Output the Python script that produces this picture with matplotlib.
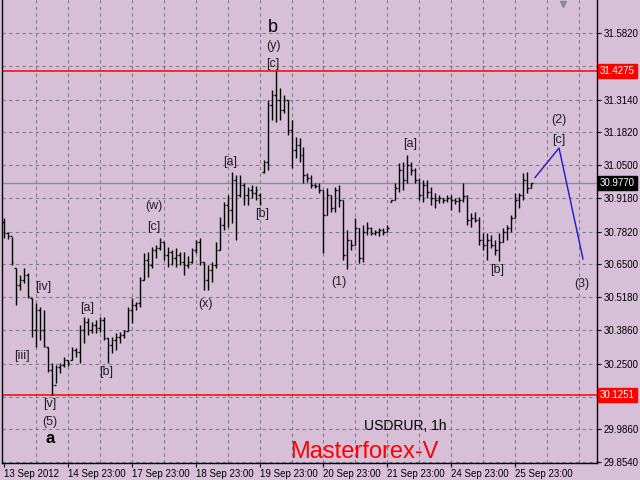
import matplotlib
matplotlib.use('Agg')
import matplotlib.pyplot as plt

# hourly USDRUR bars (index 0 = first bar on screen)
highs = [30.837, 30.781, 30.761, 30.636, 30.608, 30.636, 30.616, 30.515, 30.495, 30.479,
         30.467, 30.318, 30.253, 30.245, 30.253, 30.277, 30.265, 30.318, 30.314, 30.406,
         30.438, 30.434, 30.418, 30.426, 30.438, 30.438, 30.354, 30.358, 30.374, 30.378,
         30.386, 30.479, 30.515, 30.499, 30.600, 30.696, 30.700, 30.720, 30.728, 30.757,
         30.740, 30.720, 30.708, 30.716, 30.700, 30.700, 30.684, 30.716, 30.748, 30.757,
         30.660, 30.648, 30.660, 30.740, 30.841, 30.901, 30.930, 31.022, 31.010, 31.010,
         30.978, 30.962, 30.970, 30.966, 30.938, 31.071, 31.312, 31.352, 31.4275, 31.360,
         31.332, 31.312, 31.232, 31.163, 31.159, 31.123, 31.018, 31.010, 30.978, 30.978,
         30.950, 30.958, 30.930, 30.962, 30.970, 30.910, 30.789, 30.748, 30.837, 30.797,
         30.809, 30.821, 30.801, 30.789, 30.797, 30.797, 30.809, 30.910, 30.978, 31.059,
         31.063, 31.091, 31.063, 31.038, 30.998, 30.990, 30.990, 30.962, 30.938, 30.930,
         30.918, 30.930, 30.930, 30.918, 30.922, 30.978, 30.930, 30.857, 30.861, 30.841,
         30.777, 30.777, 30.769, 30.748, 30.777, 30.797, 30.809, 30.849, 30.938, 30.938,
         31.018, 31.022, 30.980]
lows = [30.757, 30.752, 30.648, 30.487, 30.547, 30.575, 30.515, 30.358, 30.318, 30.346,
        30.318, 30.217, 30.1251, 30.173, 30.213, 30.237, 30.241, 30.265, 30.277, 30.253,
        30.334, 30.366, 30.374, 30.374, 30.378, 30.346, 30.253, 30.293, 30.306, 30.334,
        30.354, 30.382, 30.414, 30.467, 30.479, 30.587, 30.600, 30.636, 30.676, 30.708,
        30.668, 30.640, 30.648, 30.640, 30.648, 30.608, 30.636, 30.656, 30.696, 30.648,
        30.547, 30.547, 30.579, 30.636, 30.708, 30.789, 30.801, 30.817, 30.748, 30.922,
        30.889, 30.889, 30.918, 30.910, 30.889, 31.018, 31.030, 31.232, 31.224, 31.232,
        31.260, 31.171, 31.038, 31.079, 31.063, 30.978, 30.982, 30.958, 30.958, 30.938,
        30.696, 30.849, 30.861, 30.861, 30.881, 30.668, 30.632, 30.708, 30.728, 30.656,
        30.660, 30.769, 30.769, 30.769, 30.765, 30.769, 30.781, 30.901, 30.910, 30.942,
        30.950, 30.978, 31.010, 30.978, 30.910, 30.901, 30.918, 30.889, 30.877, 30.897,
        30.897, 30.901, 30.869, 30.893, 30.861, 30.901, 30.809, 30.801, 30.821, 30.728,
        30.708, 30.668, 30.716, 30.688, 30.664, 30.740, 30.748, 30.781, 30.837, 30.877,
        30.910, 30.938, 30.958]
opens = [30.821, 30.777, 30.765, 30.636, 30.567, 30.587, 30.608, 30.515, 30.386, 30.467,
         30.386, 30.318, 30.225, 30.165, 30.237, 30.245, 30.265, 30.265, 30.306, 30.297,
         30.386, 30.418, 30.386, 30.406, 30.394, 30.426, 30.354, 30.326, 30.346, 30.358,
         30.366, 30.382, 30.467, 30.487, 30.495, 30.587, 30.668, 30.648, 30.708, 30.716,
         30.740, 30.688, 30.700, 30.676, 30.688, 30.660, 30.648, 30.660, 30.708, 30.740,
         30.660, 30.587, 30.628, 30.648, 30.708, 30.809, 30.889, 30.869, 30.990, 30.930,
         30.970, 30.930, 30.950, 30.938, 30.930, 31.022, 31.063, 31.292, 31.332, 31.312,
         31.272, 31.312, 31.191, 31.111, 31.131, 31.091, 31.010, 30.998, 30.970, 30.966,
         30.950, 30.849, 30.930, 30.877, 30.950, 30.910, 30.688, 30.748, 30.728, 30.797,
         30.676, 30.781, 30.797, 30.777, 30.781, 30.789, 30.781, 30.901, 30.910, 30.958,
         31.030, 30.990, 31.050, 31.030, 30.990, 30.930, 30.970, 30.942, 30.918, 30.910,
         30.918, 30.910, 30.918, 30.910, 30.905, 30.910, 30.926, 30.829, 30.837, 30.829,
         30.748, 30.728, 30.748, 30.728, 30.708, 30.740, 30.781, 30.797, 30.837, 30.910,
         30.930, 30.990, 30.958]
closes = [30.777, 30.765, 30.660, 30.567, 30.587, 30.608, 30.523, 30.386, 30.467, 30.386,
          30.322, 30.225, 30.165, 30.237, 30.245, 30.265, 30.253, 30.306, 30.297, 30.386,
          30.418, 30.386, 30.406, 30.394, 30.426, 30.354, 30.326, 30.346, 30.358, 30.366,
          30.382, 30.467, 30.487, 30.495, 30.587, 30.668, 30.648, 30.708, 30.716, 30.740,
          30.688, 30.700, 30.676, 30.688, 30.660, 30.648, 30.660, 30.708, 30.740, 30.660,
          30.587, 30.628, 30.648, 30.708, 30.809, 30.889, 30.869, 30.990, 30.930, 30.970,
          30.930, 30.950, 30.938, 30.950, 30.897, 31.063, 31.292, 31.332, 31.312, 31.272,
          31.312, 31.191, 31.111, 31.131, 31.091, 31.010, 30.998, 30.970, 30.966, 30.950,
          30.849, 30.930, 30.877, 30.950, 30.910, 30.688, 30.748, 30.728, 30.797, 30.676,
          30.781, 30.797, 30.777, 30.781, 30.789, 30.781, 30.797, 30.910, 30.958, 31.030,
          30.990, 31.050, 31.030, 30.990, 30.930, 30.970, 30.942, 30.918, 30.910, 30.918,
          30.910, 30.918, 30.910, 30.905, 30.910, 30.926, 30.829, 30.837, 30.829, 30.748,
          30.728, 30.748, 30.728, 30.708, 30.740, 30.781, 30.797, 30.837, 30.910, 30.930,
          30.990, 30.958, 30.977]

price_ticks = [29.854, 29.986, 30.118, 30.250, 30.386, 30.518, 30.650, 30.782,
               30.918, 31.050, 31.182, 31.314, 31.450, 31.582]
# these two scale labels sit under the red level boxes
hidden_ticks = [30.118, 31.450]
date_pos = [0, 16, 32, 48, 64, 80, 96, 112, 128]
date_labels = ['13 Sep 2012', '14 Sep 23:00', '17 Sep 23:00', '18 Sep 23:00',
               '19 Sep 23:00', '20 Sep 23:00', '21 Sep 23:00', '24 Sep 23:00',
               '25 Sep 23:00']

level_hi = 31.4275
level_lo = 30.1251
bid = 30.9770

# forecast path (2)->(3)
fc_x = [132.9, 138.9, 144.9]
fc_y = [31.000, 31.119, 30.672]

# wave labels: (text, bar index, price)
waves = [
    ('[iii]', 4.6, 30.281), ('[iv]', 9.9, 30.559), ('[v]', 11.6, 30.088),
    ('(5)', 11.6, 30.016), ('[a]', 20.9, 30.474), ('[b]', 25.6, 30.217),
    ('(w)', 37.6, 30.885), ('[c]', 37.6, 30.801), ('(x)', 50.6, 30.491),
    ('[a]', 56.6, 31.064), ('[b]', 64.6, 30.853), ('(y)', 67.4, 31.530),
    ('[c]', 67.4, 31.457), ('(1)', 83.9, 30.579), ('[a]', 101.6, 31.135),
    ('[b]', 123.4, 30.628), ('(2)', 138.9, 31.232), ('[c]', 138.9, 31.151),
    ('(3)', 144.6, 30.571),
]

bg = '#d8bfd8'
plt.rcParams['font.family'] = ['Liberation Sans', 'DejaVu Sans']

fig = plt.figure(figsize=(6.4, 4.8), dpi=100, facecolor=bg)
ax = fig.add_axes([2 / 640, 17 / 480, 595 / 640, 463 / 480])
ax.set_facecolor(bg)

n = len(highs)
idx = list(range(n))
ax.vlines(idx, lows, highs, color='black', lw=1.0, zorder=3)
ax.hlines(opens, [i - 0.4 for i in idx], idx, color='black', lw=1.0, zorder=3)
ax.hlines(closes, idx, [i + 0.4 for i in idx], color='black', lw=1.0, zorder=3)

ax.set_xlim(-0.4, 148.4)
ax.set_ylim(29.8505, 31.715)

gridc = '#7c7c88'
for p in price_ticks:
    ax.axhline(p, color=gridc, lw=0.8, ls=(0, (3, 3)), zorder=1)
for k in range(8, 149, 8):
    ax.axvline(k, color=gridc, lw=0.8, ls=(0, (3, 3)), zorder=1)

ax.axhline(level_hi, color='#ff0000', lw=1.1, zorder=2)
ax.axhline(level_lo, color='#ff0000', lw=1.1, zorder=2)
ax.axhline(bid, color='#7890a0', lw=1.0, zorder=2)

ax.plot(fc_x, fc_y, color='#1a1ad0', lw=1.0, zorder=4)

for txt, x, y in waves:
    ax.text(x, y, txt, ha='center', va='center', fontsize=9, color='#202020', zorder=5)
ax.text(67.4, 31.606, 'b', ha='center', va='center', fontsize=13, color='black')
ax.text(11.6, 29.951, 'a', ha='center', va='center', fontsize=12, color='black',
        fontweight='bold')
ax.text(100.5, 29.999, 'USDRUR, 1h', ha='center', va='center', fontsize=10, color='black')
ax.text(90.3, 29.893, 'Masterforex-V', ha='center', va='center', fontsize=17, color='red')

# shift marker at the top
ax.plot([139.9], [31.70], marker='v', ms=5, color='#8a8a8a', clip_on=False, zorder=6)

ax.yaxis.tick_right()
ax.set_yticks(price_ticks)
ax.set_yticklabels(['' if p in hidden_ticks else '%.4f' % p for p in price_ticks])
ax.set_xticks(date_pos)
ax.set_xticklabels(date_labels, ha='left')
ax.tick_params(axis='y', length=3, width=0.8, pad=2, labelsize=7)
ax.tick_params(axis='x', length=3, width=0.8, pad=1, labelsize=7)

for sp in ['left', 'right', 'bottom']:
    ax.spines[sp].set_color('black')
    ax.spines[sp].set_linewidth(1.0)
ax.spines['top'].set_visible(False)

# price boxes on the right scale
for val, fc in [(level_hi, '#ff0000'), (bid, 'black'), (level_lo, '#ff0000')]:
    ax.text(1.005, val, '%.4f' % val, transform=ax.get_yaxis_transform(),
            ha='left', va='center', fontsize=7, color='white', zorder=10, clip_on=False,
            bbox=dict(boxstyle='square,pad=0.2', fc=fc, ec=fc))

fig.savefig('out.png', dpi=100, facecolor=bg)
